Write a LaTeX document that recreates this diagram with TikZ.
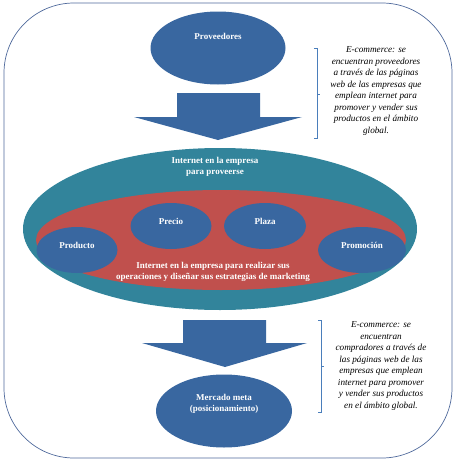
\documentclass[tikz,border=0pt]{standalone}
\usepackage{fontspec}
\setmainfont{Liberation Serif}
\usetikzlibrary{shapes.geometric}
\definecolor{azul}{RGB}{57,103,160}
\definecolor{turquesa}{RGB}{50,132,155}
\definecolor{rojo}{RGB}{192,80,77}
\definecolor{marco}{RGB}{80,106,156}
\definecolor{corch}{RGB}{74,126,187}
\begin{document}
\begin{tikzpicture}[
  x=1pt, y=-1pt,
  elip/.style={ellipse, fill=azul, inner sep=0pt},
  txt/.style={text=white, font=\fontsize{9}{11}\selectfont\bfseries, align=center, inner sep=0pt},
  nota/.style={font=\fontsize{9.2}{11.5}\selectfont\itshape, align=center, inner sep=0pt},
  corchete/.style={draw=corch, line width=0.9pt},
  flecha/.style={fill=azul}
]
  \useasboundingbox (0,0) rectangle (457,463);
  % marco exterior
  \draw[marco, line width=0.7pt, rounded corners=70pt] (4,3) rectangle (452,458);

  % Proveedores
  \node[elip, minimum width=135pt, minimum height=73pt] (prov) at (218,48) {};
  \node[txt] (provtxt) at (218,36) {Proveedores};
  \fill[flecha] (177,93) -- (260,93) -- (260,117) -- (302,117) -- (218,140)
    -- (134,117) -- (177,117) -- cycle;

  % Internet en la empresa
  \node[ellipse, fill=turquesa, minimum width=394pt, minimum height=162pt] (prov2) at (220,229) {};
  \node[txt] (prov2txt) at (215,167) {Internet en la empresa\\para proveerse};
  \node[ellipse, fill=rojo, minimum width=370pt, minimum height=100pt] (oper) at (221,240) {};

  % 4P
  \node[elip, minimum width=81pt, minimum height=46pt] (producto) at (77,250) {};
  \node[elip, minimum width=81pt, minimum height=46pt] (precio) at (171,226) {};
  \node[elip, minimum width=82pt, minimum height=46pt] (plaza) at (265,226) {};
  \node[elip, minimum width=88pt, minimum height=46pt] (promo) at (362,250) {};
  \node[txt] at (77,245) {Producto};
  \node[txt] at (171,221) {Precio};
  \node[txt] at (265,221) {Plaza};
  \node[txt] at (362,245) {Promoción};
  \node[txt] (opertxt) at (213,272) {Internet en la empresa para realizar sus\\operaciones y diseñar sus estrategias de marketing};

  % Mercado meta
  \fill[flecha] (183,320) -- (266,320) -- (266,343) -- (307,343) -- (225,367)
    -- (142,343) -- (183,343) -- cycle;
  \node[elip, minimum width=136pt, minimum height=73pt] (meta) at (224,411) {};
  \node[txt] (metatxt) at (224,404) {Mercado meta\\(posicionamiento)};

  % notas
  \draw[corchete] (314,48) -- (317,48) -- (317,138) -- (314,138);
  \draw[corchete] (317,94) -- (320,94);
  \node[nota] (nota1) at (376,91) {E-commerce: se\\encuentran proveedores\\a través de las páginas\\web de las empresas que\\emplean internet para\\promover y vender sus\\productos en el ámbito\\global.};
  \draw[corchete] (318,320) -- (321,320) -- (321,412) -- (318,412);
  \draw[corchete] (321,366) -- (324,366);
  \node[nota] (nota2) at (381,366) {E-commerce: se\\encuentran\\compradores a través de\\las páginas web de las\\empresas que emplean\\internet para promover\\y vender sus productos\\en el ámbito global.};
\end{tikzpicture}
\end{document}
